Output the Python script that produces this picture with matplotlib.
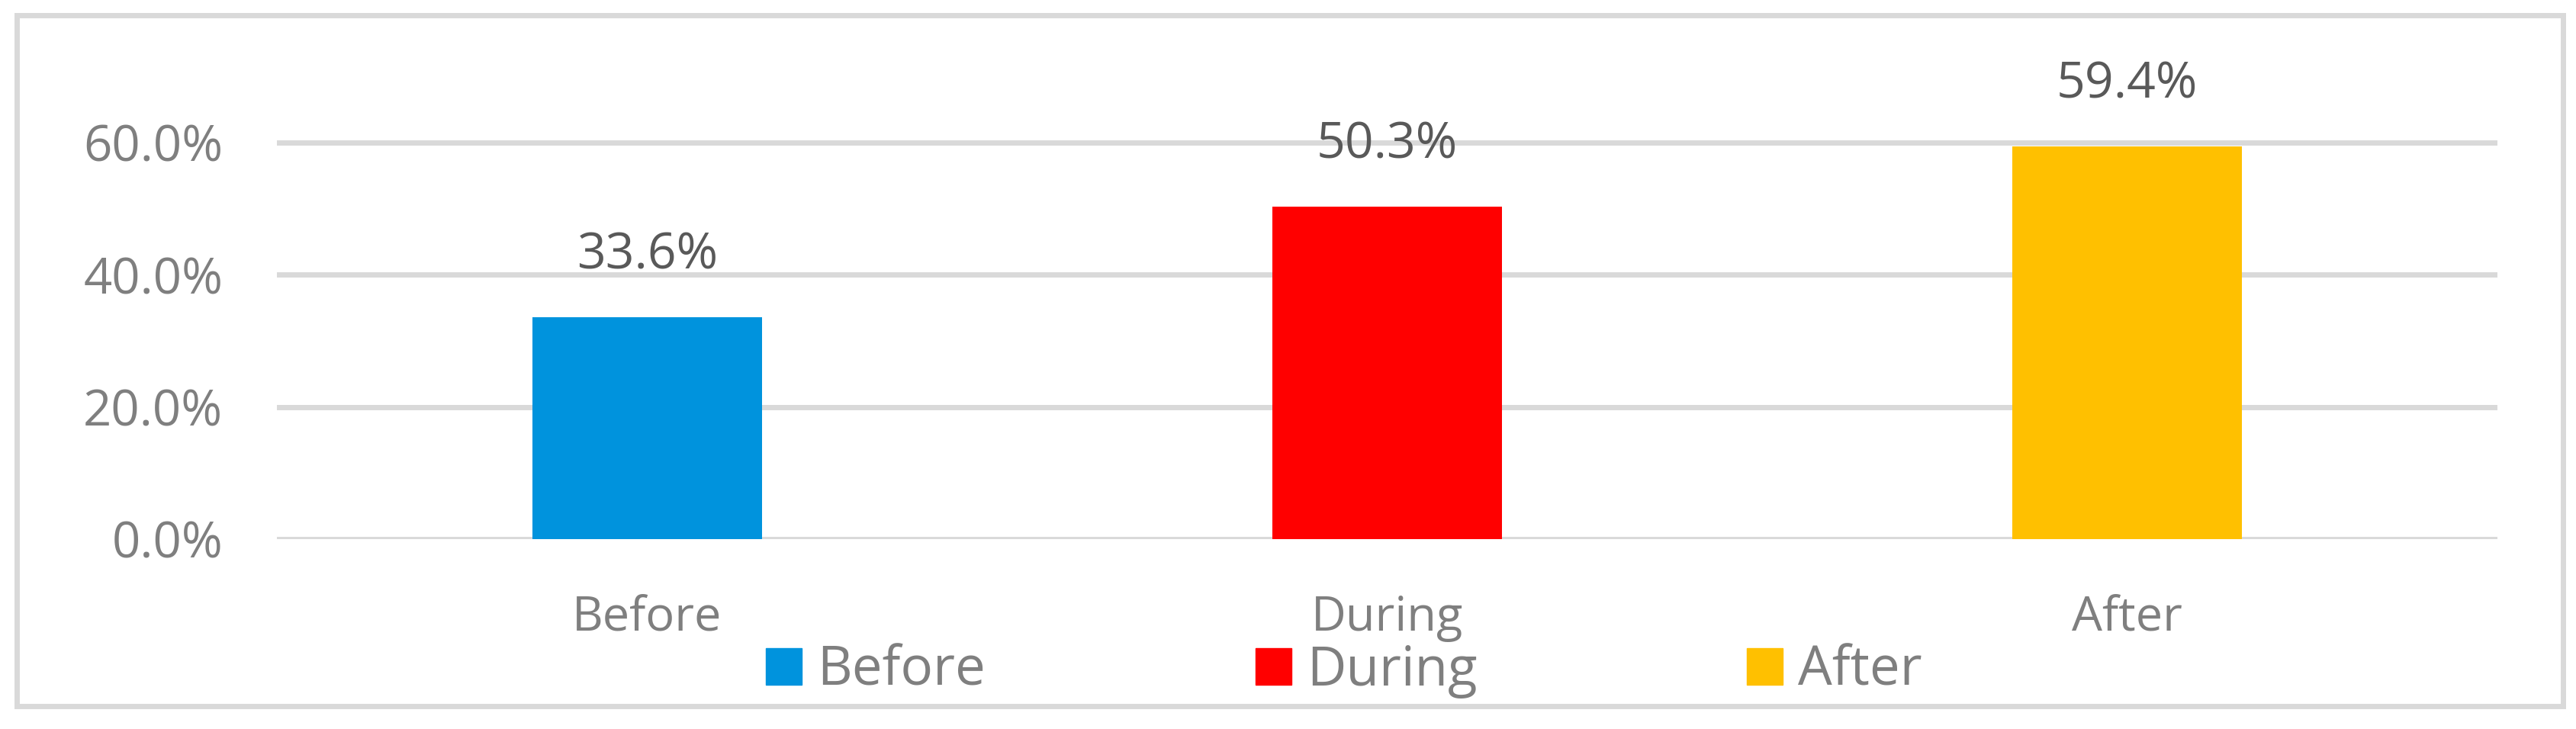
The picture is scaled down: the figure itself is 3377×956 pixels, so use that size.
import matplotlib
matplotlib.use("Agg")
import matplotlib.pyplot as plt
from matplotlib.patches import Rectangle

categories = ["Before", "During", "After"]
values = [0.336, 0.503, 0.594]
colors = ["#0093DD", "#FF0000", "#FFC000"]
yticks = [0.0, 0.2, 0.4, 0.6]
ytick_labels = ["0.0%", "20.0%", "40.0%", "60.0%"]

plt.rcParams['font.family'] = ['Open Sans', 'DejaVu Sans']

W, H = 3377, 956
fig = plt.figure(figsize=(W / 100, H / 100), dpi=100)

ax_left = 363 / W
ax_right = 3274 / W
y0_px = 707
y60_px = 187
ax_bottom = (H - y0_px) / H
h60 = (y0_px - y60_px) / H
ax_height = h60 / 0.6 * 0.70
ax = fig.add_axes([ax_left, ax_bottom, ax_right - ax_left, ax_height])

x = list(range(len(categories)))
bars = ax.bar(x, values, width=0.31, color=colors, label=categories, zorder=3)

ax.set_xlim(-0.5, len(categories) - 0.5)
ax.set_ylim(0, 0.70)
ax.set_yticks(yticks)
ax.set_yticklabels(ytick_labels)
ax.set_xticks(x)
ax.set_xticklabels(categories)
for s in ax.spines.values():
    s.set_visible(False)
ax.tick_params(axis='both', length=0, colors='#7F7F7F')
ax.tick_params(axis='y', pad=51, labelsize=47)
ax.tick_params(axis='x', pad=52, labelsize=45.5)
for yt in yticks:
    ax.axhline(yt, color='#D9D9D9', lw=5, zorder=1)

for xi, v in zip(x, values):
    ax.annotate(f"{v*100:.1f}%", xy=(xi, v), xytext=(0, 58), textcoords='offset points',
                ha='center', va='center', fontsize=47.5, color='#595959', annotation_clip=False)

handles = [Rectangle((0, 0), 1, 1, color=c) for c in colors]
fig.legend(handles, categories, loc='center', bbox_to_anchor=(1762 / W, (H - 880) / H),
           ncol=3, frameon=False, fontsize=51, labelcolor='#7F7F7F',
           handlelength=0.66, handleheight=0.65, handletextpad=0.28, columnspacing=5.0,
           borderpad=0, borderaxespad=0)

border = Rectangle((22 / W, (H - 926) / H), (3360 - 22) / W, (926 - 20) / H,
                   transform=fig.transFigure, fill=False, edgecolor='#D9D9D9', lw=5)
fig.add_artist(border)

fig.savefig("out.png", dpi=100, facecolor='white')
